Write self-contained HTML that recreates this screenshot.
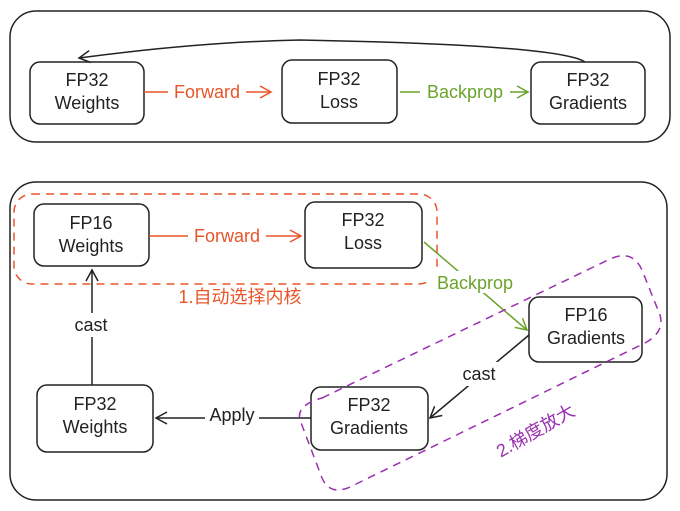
<!DOCTYPE html>
<html><head><meta charset="utf-8"><style>
html,body{margin:0;padding:0;background:#fff;}
svg{display:block;}
text{font-family:"Liberation Sans","Noto Sans CJK SC",sans-serif;font-size:18px;text-anchor:middle;}
</style></head><body>
<svg width="680" height="511" viewBox="0 0 680 511" xmlns="http://www.w3.org/2000/svg">
<defs>
<marker id="ab" markerWidth="14" markerHeight="14" refX="12" refY="7" orient="auto" markerUnits="userSpaceOnUse"><path d="M1,1 L12,7 L1,13" fill="none" stroke="#222" stroke-width="1.5"/></marker>
<marker id="ao" markerWidth="14" markerHeight="14" refX="12" refY="7" orient="auto" markerUnits="userSpaceOnUse"><path d="M1,1 L12,7 L1,13" fill="none" stroke="#e8552a" stroke-width="1.5"/></marker>
<marker id="ag" markerWidth="14" markerHeight="14" refX="12" refY="7" orient="auto" markerUnits="userSpaceOnUse"><path d="M1,1 L12,7 L1,13" fill="none" stroke="#6aa32a" stroke-width="1.5"/></marker>
</defs>
<g fill="none" stroke="#222" stroke-width="1.5">
<rect x="10" y="11" width="660" height="131" rx="26"/>
<rect x="10" y="182" width="657" height="318" rx="26"/>
<rect x="30" y="62" width="114" height="62" rx="10"/>
<rect x="282" y="60" width="115" height="63" rx="10"/>
<rect x="531" y="62" width="114" height="62" rx="10"/>
<rect x="34" y="204" width="115" height="62" rx="10"/>
<rect x="305" y="202" width="117" height="66" rx="10"/>
<rect x="529" y="297" width="113" height="65" rx="10"/>
<rect x="311" y="387" width="117" height="63" rx="10"/>
<rect x="37" y="385" width="116" height="67" rx="10"/>
<path d="M585,62 Q560,45 300,40 Q200,42 79,58" marker-end="url(#ab)"/>
<path d="M529,335 L430,418" marker-end="url(#ab)"/>
<path d="M311,418 L156,418" marker-end="url(#ab)"/>
<path d="M92,385 L92,270" marker-end="url(#ab)"/>
</g>
<path d="M144,92 L271,92" stroke="#e8552a" stroke-width="1.5" fill="none" marker-end="url(#ao)"/>
<path d="M149,236 L301,236" stroke="#e8552a" stroke-width="1.5" fill="none" marker-end="url(#ao)"/>
<path d="M400,92 L528,92" stroke="#6aa32a" stroke-width="1.5" fill="none" marker-end="url(#ag)"/>
<path d="M424,242 L527,330" stroke="#6aa32a" stroke-width="1.5" fill="none" marker-end="url(#ag)"/>
<rect x="14" y="194" width="423" height="90" rx="18" fill="none" stroke="#e8552a" stroke-width="1.5" stroke-dasharray="8,6"/>
<path d="M322,398 L608,260 Q632,248 642,270 L660,315 Q665,332 645,343 L350,487 Q330,496 322,478 L300,420 Q296,405 322,398 Z" fill="none" stroke="#9b30b0" stroke-width="1.5" stroke-dasharray="8,6"/>
<g fill="#fff">
<rect x="168" y="80" width="78" height="22"/>
<rect x="420" y="80" width="90" height="22"/>
<rect x="188" y="224" width="78" height="22"/>
<rect x="430" y="271" width="90" height="22"/>
<rect x="70" y="313" width="44" height="24"/>
<rect x="458" y="362" width="42" height="24"/>
<rect x="205" y="404" width="54" height="24"/>
</g>
<text x="207" y="98" fill="#e8552a">Forward</text>
<text x="465" y="98" fill="#6aa32a">Backprop</text>
<text x="227" y="242" fill="#e8552a">Forward</text>
<text x="475" y="289" fill="#6aa32a">Backprop</text>
<text x="91" y="331" fill="#222">cast</text>
<text x="479" y="380" fill="#222">cast</text>
<text x="232" y="421" fill="#222">Apply</text>
<text x="240" y="303" fill="#e8552a">1.自动选择内核</text>
<text x="535" y="437" fill="#9b30b0" transform="rotate(-30 535 430)">2.梯度放大</text>
<g fill="#222">
<text x="87" y="86">FP32</text><text x="87" y="109">Weights</text>
<text x="339" y="85">FP32</text><text x="339" y="108">Loss</text>
<text x="588" y="86">FP32</text><text x="588" y="109">Gradients</text>
<text x="91" y="229">FP16</text><text x="91" y="252">Weights</text>
<text x="363" y="226">FP32</text><text x="363" y="249">Loss</text>
<text x="586" y="321">FP16</text><text x="586" y="344">Gradients</text>
<text x="369" y="411">FP32</text><text x="369" y="434">Gradients</text>
<text x="95" y="410">FP32</text><text x="95" y="433">Weights</text>
</g>
</svg>
</body></html>
